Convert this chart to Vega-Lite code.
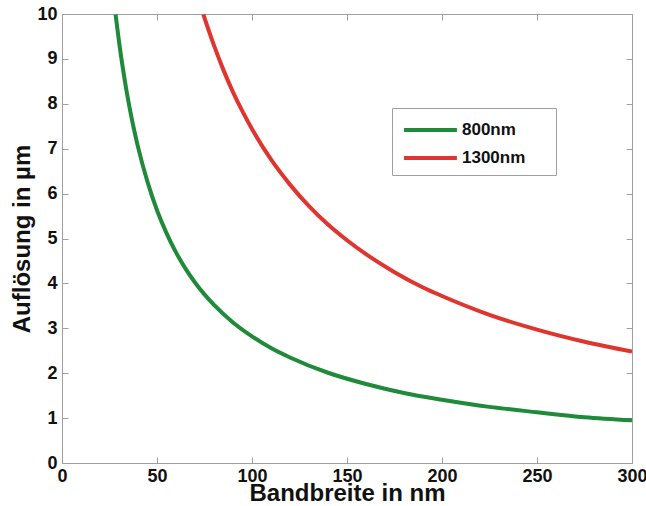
{
  "$schema": "https://vega.github.io/schema/vega-lite/v6.json",
  "width": 570,
  "height": 449,
  "autosize": {"type": "none"},
  "padding": {"left": 62, "top": 14, "right": 14, "bottom": 43},
  "background": "white",
  "config": {
    "view": {"stroke": "#a0a0a0", "strokeWidth": 1},
    "font": "Liberation Sans",
    "axis": {
      "grid": false,
      "domain": false,
      "tickColor": "#a0a0a0",
      "tickSize": -6,
      "labelFlush": false,
      "labelFont": "Liberation Sans",
      "labelFontWeight": "bold",
      "labelFontSize": 18,
      "labelColor": "#111",
      "titleFont": "Liberation Sans",
      "titleFontWeight": "bold",
      "titleFontSize": 24,
      "titleColor": "#111"
    }
  },
  "data": {
    "values": [
      {"bw": 28.2, "res": 9.99, "wl": "800nm"},
      {"bw": 30, "res": 9.39, "wl": "800nm"},
      {"bw": 32, "res": 8.80, "wl": "800nm"},
      {"bw": 34, "res": 8.28, "wl": "800nm"},
      {"bw": 36, "res": 7.82, "wl": "800nm"},
      {"bw": 38, "res": 7.41, "wl": "800nm"},
      {"bw": 40, "res": 7.04, "wl": "800nm"},
      {"bw": 45, "res": 6.26, "wl": "800nm"},
      {"bw": 50, "res": 5.63, "wl": "800nm"},
      {"bw": 55, "res": 5.12, "wl": "800nm"},
      {"bw": 60, "res": 4.69, "wl": "800nm"},
      {"bw": 65, "res": 4.33, "wl": "800nm"},
      {"bw": 70, "res": 4.02, "wl": "800nm"},
      {"bw": 80, "res": 3.52, "wl": "800nm"},
      {"bw": 90, "res": 3.13, "wl": "800nm"},
      {"bw": 100, "res": 2.82, "wl": "800nm"},
      {"bw": 110, "res": 2.56, "wl": "800nm"},
      {"bw": 120, "res": 2.35, "wl": "800nm"},
      {"bw": 140, "res": 2.01, "wl": "800nm"},
      {"bw": 160, "res": 1.76, "wl": "800nm"},
      {"bw": 180, "res": 1.56, "wl": "800nm"},
      {"bw": 200, "res": 1.41, "wl": "800nm"},
      {"bw": 225, "res": 1.25, "wl": "800nm"},
      {"bw": 250, "res": 1.13, "wl": "800nm"},
      {"bw": 275, "res": 1.02, "wl": "800nm"},
      {"bw": 300, "res": 0.95, "wl": "800nm"},
      {"bw": 74.4, "res": 9.99, "wl": "1300nm"},
      {"bw": 80, "res": 9.30, "wl": "1300nm"},
      {"bw": 85, "res": 8.75, "wl": "1300nm"},
      {"bw": 90, "res": 8.26, "wl": "1300nm"},
      {"bw": 95, "res": 7.83, "wl": "1300nm"},
      {"bw": 100, "res": 7.44, "wl": "1300nm"},
      {"bw": 110, "res": 6.76, "wl": "1300nm"},
      {"bw": 120, "res": 6.20, "wl": "1300nm"},
      {"bw": 130, "res": 5.72, "wl": "1300nm"},
      {"bw": 140, "res": 5.31, "wl": "1300nm"},
      {"bw": 150, "res": 4.96, "wl": "1300nm"},
      {"bw": 160, "res": 4.65, "wl": "1300nm"},
      {"bw": 175, "res": 4.25, "wl": "1300nm"},
      {"bw": 190, "res": 3.91, "wl": "1300nm"},
      {"bw": 200, "res": 3.72, "wl": "1300nm"},
      {"bw": 225, "res": 3.30, "wl": "1300nm"},
      {"bw": 250, "res": 2.97, "wl": "1300nm"},
      {"bw": 275, "res": 2.70, "wl": "1300nm"},
      {"bw": 300, "res": 2.48, "wl": "1300nm"}
    ]
  },
  "layer": [
    {
      "mark": {"type": "line", "strokeWidth": 4, "interpolate": "monotone", "clip": true},
      "encoding": {
        "x": {
          "field": "bw", "type": "quantitative",
          "scale": {"domain": [0, 300], "nice": false},
          "axis": {"values": [0, 50, 100, 150, 200, 250, 300], "title": "Bandbreite in nm", "titlePadding": -4, "labelPadding": 10}
        },
        "y": {
          "field": "res", "type": "quantitative",
          "scale": {"domain": [0, 10], "nice": false},
          "axis": {"values": [0, 1, 2, 3, 4, 5, 6, 7, 8, 9, 10], "title": "Auflösung in µm", "titlePadding": 2, "labelPadding": 11}
        },
        "color": {
          "field": "wl", "type": "nominal",
          "scale": {"domain": ["800nm", "1300nm"], "range": ["#1f8a3a", "#e0352f"]},
          "legend": {
            "title": null,
            "orient": "none",
            "legendX": 330,
            "legendY": 94,
            "symbolType": "M-0.91,0H3.9",
            "symbolSize": 484,
            "symbolStrokeWidth": 4,
            "labelOffset": 35,
            "labelExpr": "datum.label + '\u00a0\u00a0\u2800'",
            "labelFont": "Liberation Sans",
            "labelFontWeight": "bold",
            "labelFontSize": 17,
            "labelColor": "#111",
            "strokeColor": "#a0a0a0",
            "fillColor": "white",
            "padding": 9,
            "rowPadding": 7
          }
        }
      }
    },
    {
      "mark": {"type": "point", "opacity": 0},
      "encoding": {
        "x": {"field": "bw", "type": "quantitative", "scale": {"domain": [0, 300], "nice": false},
          "axis": {"orient": "top", "values": [0, 50, 100, 150, 200, 250, 300], "labels": false, "title": null}},
        "y": {"field": "res", "type": "quantitative", "scale": {"domain": [0, 10], "nice": false},
          "axis": {"orient": "right", "values": [0, 1, 2, 3, 4, 5, 6, 7, 8, 9, 10], "labels": false, "title": null}}
      }
    }
  ],
  "resolve": {"axis": {"x": "independent", "y": "independent"}}
}
